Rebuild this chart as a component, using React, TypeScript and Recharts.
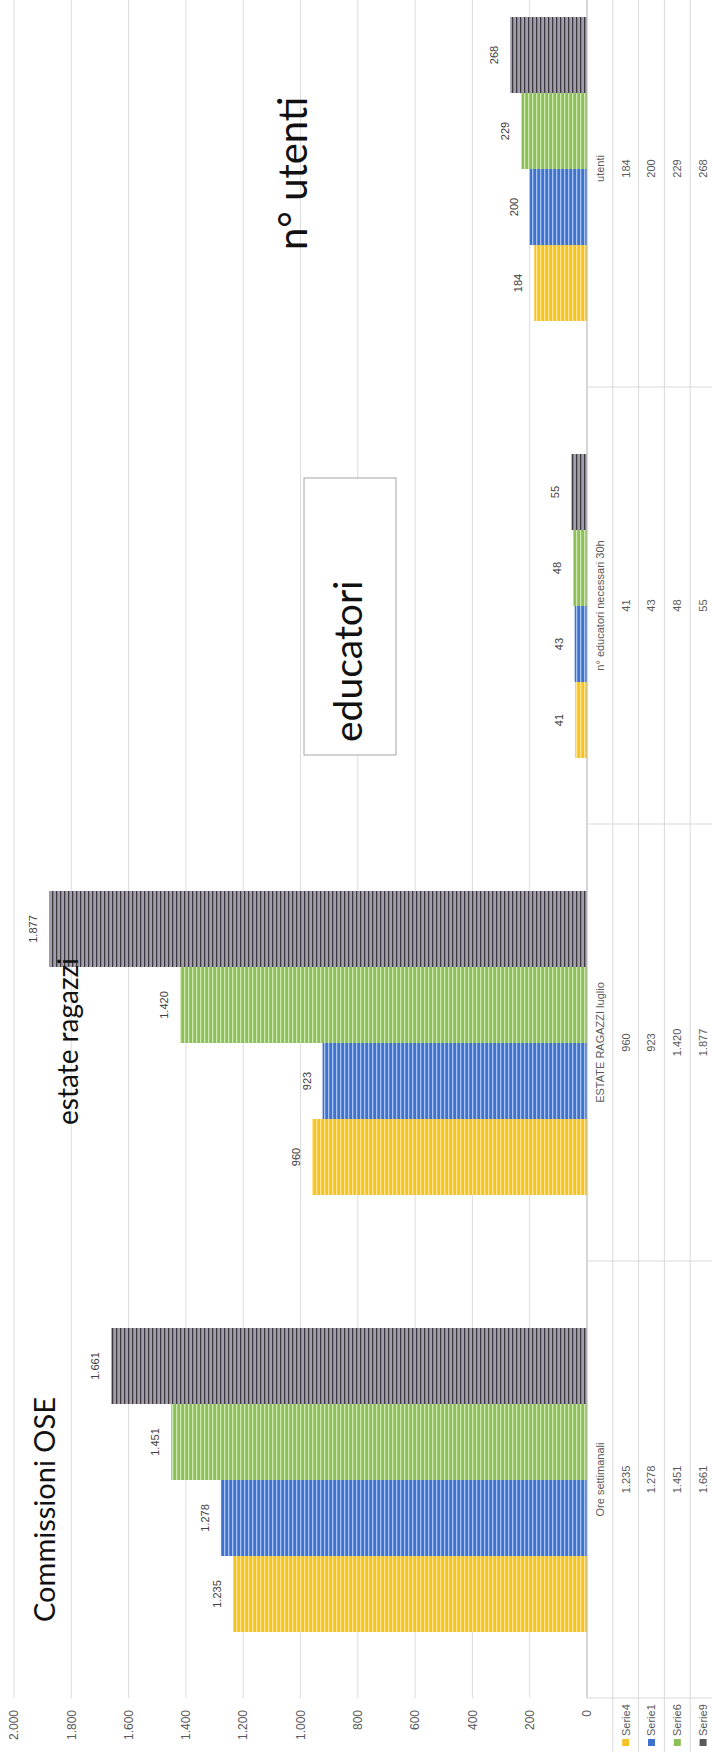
import React from 'react';
import { BarChart, Bar, XAxis, YAxis, CartesianGrid, LabelList, Legend } from 'recharts';

// categories of the data table (left to right in the upright chart)
const categories = ['Ore settimanali', 'ESTATE RAGAZZI luglio', 'n° educatori necessari 30h', 'utenti'];

// series values, one per category
const serie4 = [1235, 960, 41, 184];
const serie1 = [1278, 923, 43, 200];
const serie6 = [1451, 1420, 48, 229];
const serie9 = [1661, 1877, 55, 268];

const valueTicks = [0, 200, 400, 600, 800, 1000, 1200, 1400, 1600, 1800, 2000];

const series = [
  { key: 'Serie4', values: serie4, color: '#f6c327', stripe: '#fde592', key2: '#f6c327' },
  { key: 'Serie1', values: serie1, color: '#3d72cf', stripe: '#a9c3ee', key2: '#3d72cf' },
  { key: 'Serie6', values: serie6, color: '#8cbf58', stripe: '#cfe7b2', key2: '#8cbf58' },
  { key: 'Serie9', values: serie9, color: '#a49db0', stripe: '#3c3c3c', key2: '#5a5a5a' },
];

const data = categories.map((name, i) => ({
  name,
  Serie4: serie4[i],
  Serie1: serie1[i],
  Serie6: serie6[i],
  Serie9: serie9[i],
}));

// the scanned chart is lying on its side: build it upright, then turn it
const W = 1810;
const H = 716;
const PLOT_LEFT = 54;
const PLOT_TOP = 14;
const PLOT_BOTTOM = 587;
const PLOT_RIGHT = 1802;
const ROW_H = (H - PLOT_BOTTOM) / 5;
const BAND = (PLOT_RIGHT - PLOT_LEFT) / categories.length;

const FONT = 'Lato, "Noto Sans", sans-serif';
const SMALL = '"Liberation Sans Narrow", "Liberation Sans", sans-serif';

const fmt = (v: number) => String(v).replace(/\B(?=(\d{3})+(?!\d))/g, '.');

function TableTick(props: any) {
  const { x, y, payload } = props;
  const i = categories.indexOf(payload.value);
  const left = x - BAND / 2;
  const right = x + BAND / 2;
  return (
    <g>
      {[1, 2, 3, 4, 5].map((k) => (
        <line key={k} x1={left} x2={right} y1={y + k * ROW_H} y2={y + k * ROW_H} stroke="#d9d9d9" />
      ))}
      <line x1={right} x2={right} y1={y} y2={y + 5 * ROW_H} stroke="#d9d9d9" />
      {i === 0 && <line x1={left} x2={left} y1={y} y2={y + 5 * ROW_H} stroke="#d9d9d9" />}
      <text x={x} y={y + ROW_H / 2} dy="0.35em" textAnchor="middle" fontSize={11} fill="#595959" fontFamily={SMALL}>
        {payload.value}
      </text>
      {series.map((s, k) => (
        <text
          key={s.key}
          x={x}
          y={y + ROW_H * (k + 1.5)}
          dy="0.35em"
          textAnchor="middle"
          fontSize={11}
          fill="#595959"
          fontFamily={SMALL}
        >
          {fmt(s.values[i])}
        </text>
      ))}
    </g>
  );
}

function LegendColumn(props: any) {
  const order = (e: any) => series.findIndex((s) => s.key === e.dataKey);
  const payload = [...(props.payload || [])].sort((a: any, b: any) => order(a) - order(b));
  return (
    <svg width={PLOT_LEFT} height={5 * ROW_H} style={{ display: 'block', overflow: 'visible' }}>
      {[1, 2, 3, 4, 5].map((k) => (
        <line key={k} x1={0} x2={PLOT_LEFT} y1={k * ROW_H} y2={k * ROW_H} stroke="#d9d9d9" />
      ))}
      {payload.map((entry: any, k: number) => {
        const s = series.find((d) => d.key === entry.dataKey) || series[k];
        const cy = ROW_H * (k + 1.5);
        return (
          <g key={entry.value}>
            <rect x={6} y={cy - 3.5} width={7} height={7} fill={s.key2} />
            <text x={16} y={cy} dy="0.35em" fontSize={11} fill="#595959" fontFamily={SMALL}>
              {entry.value}
            </text>
          </g>
        );
      })}
    </svg>
  );
}

export default function App() {
  return (
    <div style={{ position: 'absolute', left: 0, top: 0, width: 712, height: 1752, overflow: 'hidden', background: '#fff' }}>
      <div
        style={{
          position: 'absolute',
          left: 0,
          top: 0,
          width: W,
          height: H,
          transformOrigin: '0 0',
          transform: 'translateY(1752px) rotate(-90deg)',
        }}
      >
        <BarChart
          width={W}
          height={H}
          data={data}
          margin={{ top: PLOT_TOP, right: W - PLOT_RIGHT, bottom: 0, left: 0 }}
          barCategoryGap={66}
          barGap={0}
        >
          <defs>
            {series.map((s) => (
              <pattern key={s.key} id={`stripe-${s.key}`} patternUnits="userSpaceOnUse" width={8} height={4}>
                <rect width={8} height={4} fill={s.color} />
                <rect width={8} height={1.3} fill={s.stripe} />
              </pattern>
            ))}
          </defs>
          <CartesianGrid vertical={false} stroke="#dcdcdc" />
          <XAxis
            dataKey="name"
            height={H - PLOT_BOTTOM}
            interval={0}
            tickLine={false}
            tickSize={0}
            tickMargin={0}
            axisLine={{ stroke: '#bfbfbf' }}
            tick={(p: any) => <TableTick {...p} />}
          />
          <YAxis
            width={PLOT_LEFT}
            domain={[0, 2000]}
            ticks={valueTicks}
            tickFormatter={fmt}
            axisLine={false}
            tickLine={false}
            tickSize={8}
            tickMargin={4}
            tick={{ fontSize: 12, fill: '#595959', fontFamily: SMALL }}
          />
          <Legend
            layout="vertical"
            align="center"
            verticalAlign="middle"
            wrapperStyle={{ left: 0, top: PLOT_BOTTOM, width: PLOT_LEFT, height: 5 * ROW_H, right: 'auto', bottom: 'auto' }}
            content={(p: any) => <LegendColumn payload={p.payload} />}
          />
          {series.map((s) => (
            <Bar key={s.key} dataKey={s.key} name={s.key} fill={`url(#stripe-${s.key})`} isAnimationActive={false}>
              <LabelList
                dataKey={s.key}
                position="top"
                offset={12}
                formatter={(v: any) => fmt(Number(v))}
                style={{ fontSize: 11, fill: '#404040', fontFamily: SMALL }}
              />
            </Bar>
          ))}
        </BarChart>
        <svg
          width={W}
          height={H}
          style={{ position: 'absolute', left: 0, top: 0, pointerEvents: 'none' }}
        >
          <text x={130} y={55} fontSize={29} fontFamily={FONT} fill="#111">Commissioni OSE</text>
          <text x={627} y={78} fontSize={28} fontFamily={FONT} fill="#111">estate ragazzi</text>
          <rect x={997} y={304} width={277} height={92} fill="#fff" stroke="#a6a6a6" />
          <text x={1010} y={362} fontSize={39} fontFamily={FONT} fill="#111">educatori</text>
          <text x={1502} y={307} fontSize={40} fontFamily={FONT} fill="#111">n° utenti</text>
        </svg>
      </div>
    </div>
  );
}
